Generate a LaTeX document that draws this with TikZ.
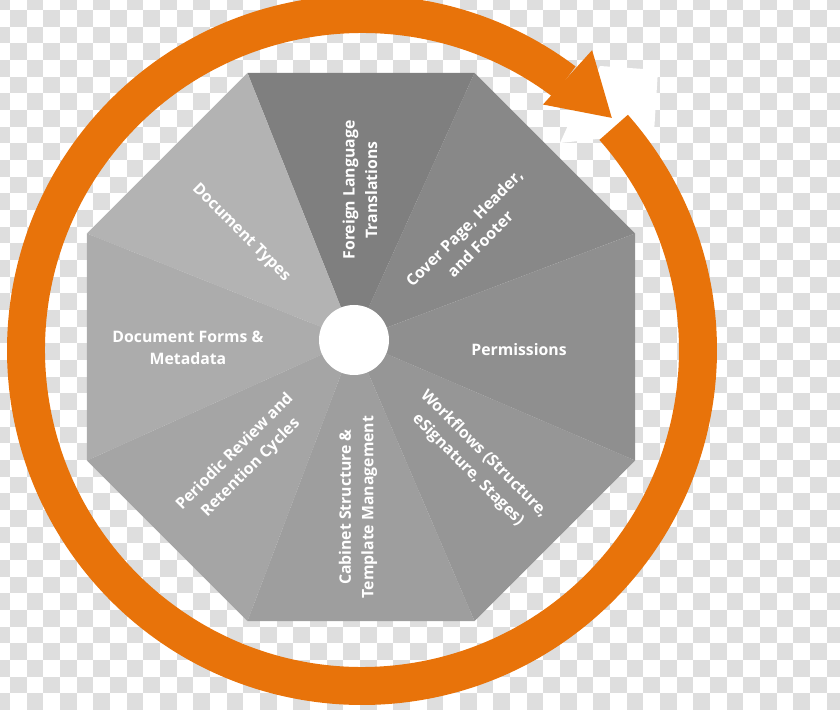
\documentclass[tikz,border=0pt]{standalone}
\usepackage{fontspec}
\setmainfont{Open Sans}
\usetikzlibrary{calc}
\definecolor{ringorange}{HTML}{E8730A}
\definecolor{checkgrey}{HTML}{DEDEDE}
\definecolor{secTransl}{HTML}{7F7F7F}
\definecolor{secCover}{HTML}{888888}
\definecolor{secPerms}{HTML}{8F8F8F}
\definecolor{secFlows}{HTML}{969696}
\definecolor{secCabinet}{HTML}{9E9E9E}
\definecolor{secPeriodic}{HTML}{A5A5A5}
\definecolor{secForms}{HTML}{ACACAC}
\definecolor{secTypes}{HTML}{B3B3B3}

\begin{document}
\begin{tikzpicture}[x=1pt,y=1pt,
    lbl/.style={text=white,font=\bfseries\fontsize{15.8}{22.5}\selectfont,
                align=center,inner sep=0pt},
    hub/.style={circle,fill=white,minimum size=70pt,inner sep=0pt}]
  \clip (-362,-359) rectangle (478,350);
  % checkered backdrop
  \foreach \i in {-1,...,49}{
    \foreach \j in {-1,...,41}{
      \pgfmathtruncatemacro{\chk}{\i+\j}
      \ifodd\chk\relax\else
        \fill[checkgrey] (16.667*\i-352,340-16.667*\j) rectangle ++(16.667,-16.667);
      \fi
    }
  }
  \fill[white] (238,284) -- (296,280) -- (292,217) -- (198,207) -- (213,240) -- cycle;

  % octagon made of eight wedges
  \coordinate (O) at (-1,3);
  \coordinate (P) at (-8,10);
  \foreach \a/\c in {22.5/secCover,67.5/secTransl,112.5/secTypes,157.5/secForms,
                     202.5/secPeriodic,247.5/secCabinet,292.5/secFlows,337.5/secPerms}
    \fill[\c] (P) -- ($(O)+(\a:296.6)$) -- ($(O)+(\a+45:296.6)$) -- cycle;
  \node[hub] (hub) at (P) {};

  % cycle arrow
  \fill[ringorange] (41.5:355) arc[start angle=41.5,end angle=-307,radius=355]
    -- (-307:317) arc[start angle=-307,end angle=41.5,radius=317] -- cycle;
  \fill[ringorange] (53.6:305) -- (52.5:378) -- (42.9:341) -- cycle;

  \node[lbl,rotate=90] (transl) at (-2,160) {Foreign Language\\Translations};
  \node[lbl,rotate=45] (cover) at (110,114) {Cover Page, Header,\\and Footer};
  \node[lbl] (perms) at (157,0) {Permissions};
  \node[lbl,rotate=-45] (flows) at (114,-112) {Workflows (Structure,\\eSignature, Stages)};
  \node[lbl,rotate=90] (cabinet) at (-4,-157) {Cabinet Structure \&\\Template Management};
  \node[lbl,rotate=45] (periodic) at (-119,-110) {Periodic Review and\\Retention Cycles};
  \node[lbl] (forms) at (-174,2) {Document Forms \&\\Metadata};
  \node[lbl,rotate=-45] (types) at (-121,117) {Document Types};
\end{tikzpicture}
\end{document}
